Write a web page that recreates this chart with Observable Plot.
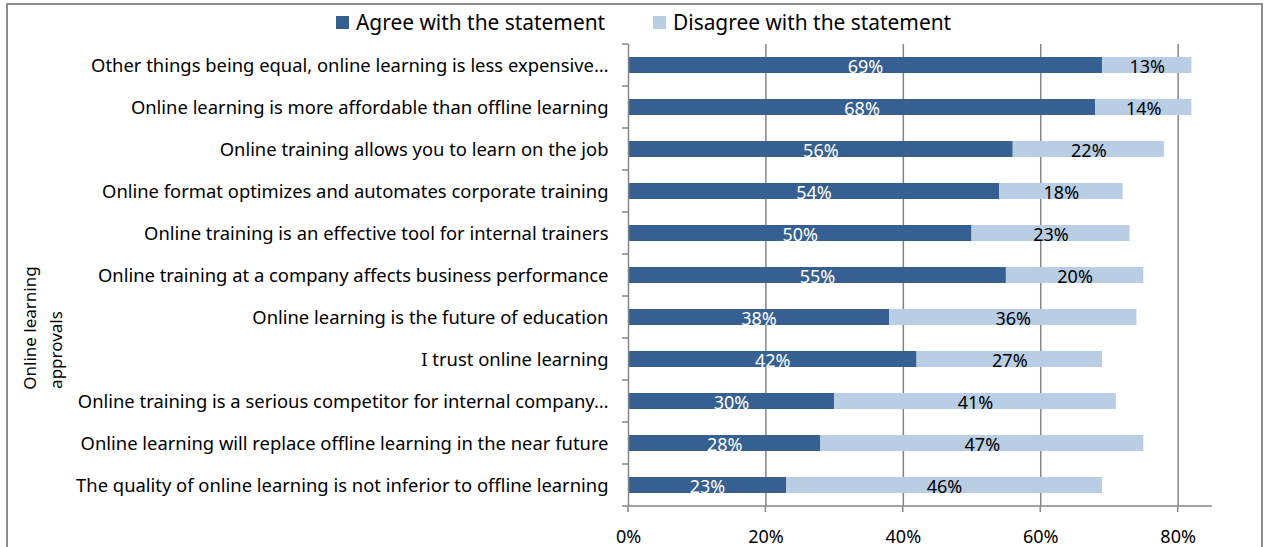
<!DOCTYPE html>
<html><head><meta charset="utf-8">
<script src="https://cdn.jsdelivr.net/npm/d3@7"></script>
<script src="https://cdn.jsdelivr.net/npm/@observablehq/plot@0.6"></script>
<style>
html,body{margin:0;padding:0;background:#fff;}
#wrap{position:relative;width:1267px;height:547px;overflow:hidden;font-family:"Noto Sans",sans-serif;color:#000;}
#frame{position:absolute;left:6px;top:3px;width:1257px;height:600px;border:2px solid #8c8c8c;box-sizing:border-box;}
#chart{position:absolute;left:0;top:0;}
</style></head>
<body><div id="wrap"><div id="frame"></div><div id="chart"></div></div>
<script>
const categories = [
  "Other things being equal, online learning is less expensive…",
  "Online learning is more affordable than offline learning",
  "Online training allows you to learn on the job",
  "Online format optimizes and automates corporate training",
  "Online training is an effective tool for internal trainers",
  "Online training at a company affects business performance",
  "Online learning is the future of education",
  "I trust online learning",
  "Online training is a serious competitor for internal company…",
  "Online learning will replace offline learning in the near future",
  "The quality of online learning is not inferior to offline learning"
];
const seriesNames = ["Agree with the statement", "Disagree with the statement"];
const agree =    [69, 68, 56, 54, 50, 55, 38, 42, 30, 28, 23];
const disagree = [13, 14, 22, 18, 23, 20, 36, 27, 41, 47, 46];
const xTicks = [0, 20, 40, 60, 80];
const colors = ["#376092", "#B9CDE5"];
const axisTitle = ["Online learning", "approvals"];

const rows = [];
categories.forEach((c, i) => {
  rows.push({cat: c, series: seriesNames[0], value: agree[i] / 100});
  rows.push({cat: c, series: seriesNames[1], value: disagree[i] / 100});
});
const pct = d => Math.round(d.value * 100) + "%";
const gray = "#868686";
const font = "'Noto Sans', sans-serif";

const axisLines = (index, scales, values, dims) => {
  const g = d3.create("svg:g").attr("stroke", gray).attr("stroke-width", 1.5);
  const x0 = scales.x(0), x1 = scales.x(0.85);
  const top = dims.marginTop, bottom = dims.height - dims.marginBottom;
  const n = categories.length, step = (bottom - top) / n;
  g.append("line").attr("x1", x0 - 6).attr("x2", x1).attr("y1", bottom).attr("y2", bottom);
  for (let k = 0; k < n; k++) {
    const y = top + k * step;
    g.append("line").attr("x1", x0 - 6).attr("x2", x0).attr("y1", y).attr("y2", y);
  }
  for (const t of xTicks) {
    const x = scales.x(t / 100);
    g.append("line").attr("x1", x).attr("x2", x).attr("y1", bottom).attr("y2", bottom + 6);
  }
  return g.node();
};

const plot = Plot.plot({
  width: 1267, height: 547,
  marginLeft: 628, marginRight: 55, marginTop: 44, marginBottom: 41,
  style: {fontFamily: font, fontSize: "18px", color: "#000", background: "transparent"},
  x: {domain: [0, 0.85]},
  y: {domain: categories, paddingInner: 0.62, paddingOuter: 0.31},
  color: {domain: seriesNames, range: colors},
  marks: [
    Plot.ruleX(xTicks.filter(t => t > 0).map(t => t / 100), {stroke: gray, strokeWidth: 1.5}),
    Plot.barX(rows, Plot.stackX({x: "value", y: "cat", fill: "series", order: seriesNames})),
    Plot.text(rows, Plot.stackX({x: "value", y: "cat", z: "series", order: seriesNames,
      text: d => d.series === seriesNames[0] ? pct(d) : "", fill: "white", fontSize: 18, dy: 2})),
    Plot.text(rows, Plot.stackX({x: "value", y: "cat", z: "series", order: seriesNames,
      text: d => d.series === seriesNames[1] ? pct(d) : "", fill: "black", fontSize: 18, dy: 2})),
    Plot.ruleX([0], {stroke: gray, strokeWidth: 1.5}),
    axisLines,
    Plot.axisY({tickSize: 0, tickPadding: 20, label: null, fontSize: 18.4, dy: 1}),
    Plot.axisX({ticks: xTicks.map(t => t / 100), tickFormat: d3.format(".0%"), tickSize: 0, tickPadding: 24, label: null, fontSize: 18})
  ]
});
document.getElementById("chart").appendChild(plot);

const wrap = d3.select("#wrap");
const legX = [336, 653];
seriesNames.forEach((s, i) => {
  const d = wrap.append("div").style("position", "absolute").style("left", legX[i] + "px").style("top", "8px")
    .style("display", "flex").style("align-items", "center").style("font-size", "20.9px").style("white-space", "nowrap");
  d.append("span").style("display", "inline-block").style("width", "13px").style("height", "13px")
    .style("background", colors[i]).style("margin-right", "7px");
  d.append("span").text(s);
});
const titlePos = [[29, 328], [55, 350]];
axisTitle.forEach((t, i) => {
  wrap.append("div").style("position", "absolute").style("left", titlePos[i][0] + "px").style("top", titlePos[i][1] + "px")
    .style("transform", "translate(-50%,-50%) rotate(-90deg)").style("font-size", "17px").style("white-space", "nowrap").text(t);
});
</script></body></html>
